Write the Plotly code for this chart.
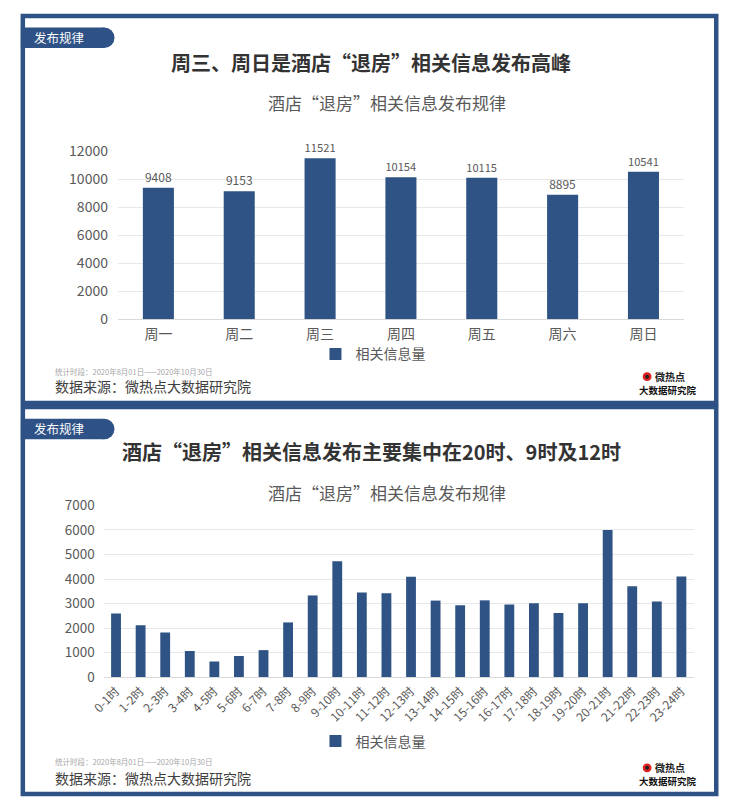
import plotly.graph_objects as go

# ---------------- data ----------------
week_days = ["周一", "周二", "周三", "周四", "周五", "周六", "周日"]
week_values = [9408, 9153, 11521, 10154, 10115, 8895, 10541]

hour_labels = ["0-1时", "1-2时", "2-3时", "3-4时", "4-5时", "5-6时", "6-7时", "7-8时",
               "8-9时", "9-10时", "10-11时", "11-12时", "12-13时", "13-14时", "14-15时",
               "15-16时", "16-17时", "17-18时", "18-19时", "19-20时", "20-21时", "21-22时",
               "22-23时", "23-24时"]
hour_values = [2590, 2110, 1820, 1060, 640, 860, 1100, 2230, 3330, 4720, 3450, 3420,
               4090, 3120, 2930, 3130, 2960, 3010, 2610, 3010, 6000, 3700, 3080, 4100]

series_name = "相关信息量"
week_yticks = [0, 2000, 4000, 6000, 8000, 10000, 12000]
hour_yticks = [0, 1000, 2000, 3000, 4000, 5000, 6000, 7000]

# ---------------- style ----------------
W, H = 729, 808
NAVY = "#2E5286"
BAR = "#2F5384"
GRAY = "#595959"
FONT = "Noto Sans CJK SC"


def X(px):
    return px / W


def Y(py):
    return 1 - py / H


fig = go.Figure()

fig.add_trace(go.Bar(
    x=week_days, y=week_values, name=series_name,
    marker=dict(color=BAR, line=dict(width=0)),
    text=[str(v) for v in week_values], textposition="outside",
    textfont=dict(size=12, color=GRAY, family=FONT),
    cliponaxis=False, xaxis="x", yaxis="y", legend="legend",
))

fig.add_trace(go.Bar(
    x=hour_labels, y=hour_values, name=series_name, width=0.4,
    marker=dict(color=BAR, line=dict(width=0)),
    xaxis="x2", yaxis="y2", legend="legend2",
))

shapes = []
# panel frames
for top, bot in [(5, 402), (406, 803)]:
    shapes.append(dict(type="rect", xref="paper", yref="paper",
                       x0=X(9), x1=X(716), y0=Y(bot), y1=Y(top),
                       line=dict(color=NAVY, width=4.5), fillcolor="white",
                       layer="below"))
# tags
for t in [17, 418]:
    shapes.append(dict(type="rect", xref="paper", yref="paper",
                       x0=X(7), x1=X(92), y0=Y(t + 21), y1=Y(t),
                       line=dict(width=0), fillcolor=NAVY, layer="below"))
    shapes.append(dict(type="circle", xref="paper", yref="paper",
                       x0=X(81.5), x1=X(102.5), y0=Y(t + 21), y1=Y(t),
                       line=dict(width=0), fillcolor=NAVY, layer="below"))
# logo icons
for cy in [375, 776]:
    shapes.append(dict(type="circle", xref="paper", yref="paper",
                       x0=X(641), x1=X(650), y0=Y(cy + 4.5), y1=Y(cy - 4.5),
                       line=dict(width=0), fillcolor="#E02020"))
    shapes.append(dict(type="circle", xref="paper", yref="paper",
                       x0=X(643.5), x1=X(647.5), y0=Y(cy + 2), y1=Y(cy - 2),
                       line=dict(width=0), fillcolor="#222222"))

annotations = []


def note(text, px, py, size, color, anchor="center", bold=False):
    annotations.append(dict(
        text=f"<b>{text}</b>" if bold else text,
        x=X(px), y=Y(py), xref="paper", yref="paper",
        xanchor=anchor, yanchor="middle", showarrow=False,
        font=dict(size=size, color=color, family=FONT)))


for off, title in [(0, "周三、周日是酒店“退房”相关信息发布高峰"),
                   (401, "酒店“退房”相关信息发布主要集中在20时、9时及12时")]:
    note("发布规律", 18, 27.5 + off, 12.5, "white", anchor="left")
    note(title, 364, 52.5 + off - (1.5 if off else 0), 20, "#333333", bold=True)

note("酒店“退房”相关信息发布规律", 380, 93.5, 17, GRAY)
note("酒店“退房”相关信息发布规律", 380, 494, 17, GRAY)

for fy, sy, ly in [(370, 385, 376), (770, 786, 777)]:
    note("统计时段：2020年8月01日——2020年10月30日", 40, fy, 7.5, "#A6A6A6", anchor="left")
    note("数据来源：微热点大数据研究院", 40, sy, 14, "#404040", anchor="left")
    note("微热点", 652, ly - 1, 10, "#222222", anchor="left", bold=True)
    note("大数据研究院", 635, ly + 12.5, 9.5, "#111111", anchor="left", bold=True)

axis_font = dict(size=14, color=GRAY, family=FONT)

fig.update_layout(
    width=W, height=H,
    margin=dict(l=0, r=0, t=0, b=0),
    paper_bgcolor="white", plot_bgcolor="rgba(0,0,0,0)",
    font=dict(family=FONT, color=GRAY),
    shapes=shapes, annotations=annotations,
    bargap=0.616,
    showlegend=True,
    xaxis=dict(domain=[X(106), X(683)], anchor="y", showgrid=False, showline=False,
               ticks="", tickfont=axis_font, ticklabelstandoff=5, fixedrange=True),
    yaxis=dict(domain=[Y(316), Y(144)], anchor="x", range=[0, 12000],
               tickvals=week_yticks, tickformat="d", showgrid=True, gridcolor="#E8E8E8",
               gridwidth=1, zeroline=True, zerolinecolor="#D9D9D9", zerolinewidth=1,
               showline=False, ticks="", tickfont=axis_font, ticklabelstandoff=9),
    xaxis2=dict(domain=[X(91.5), X(693)], anchor="y2", showgrid=False, showline=False,
                ticks="", tickangle=-45, tickfont=dict(size=12, color=GRAY, family=FONT),
                ticklabelstandoff=4),
    yaxis2=dict(domain=[Y(683), Y(507)], anchor="x2", range=[0, 7000],
                tickvals=hour_yticks, tickformat="d", showgrid=True, gridcolor="#E8E8E8",
                gridwidth=1, zeroline=True, zerolinecolor="#D9D9D9", zerolinewidth=1,
                showline=False, ticks="", tickfont=dict(size=13.5, color=GRAY, family=FONT),
                ticklabelstandoff=8),
    legend=dict(x=X(366), y=Y(352), xanchor="center", yanchor="middle",
                orientation="h", bgcolor="rgba(0,0,0,0)",
                font=dict(size=14, color=GRAY, family=FONT)),
    legend2=dict(x=X(366), y=Y(749), xanchor="center", yanchor="middle",
                 orientation="h", bgcolor="rgba(0,0,0,0)",
                 font=dict(size=14, color=GRAY, family=FONT)),
)

fig.write_html("out.html", config={"displayModeBar": False},
               post_script="document.body.style.margin='0';document.body.style.overflow='hidden';")
